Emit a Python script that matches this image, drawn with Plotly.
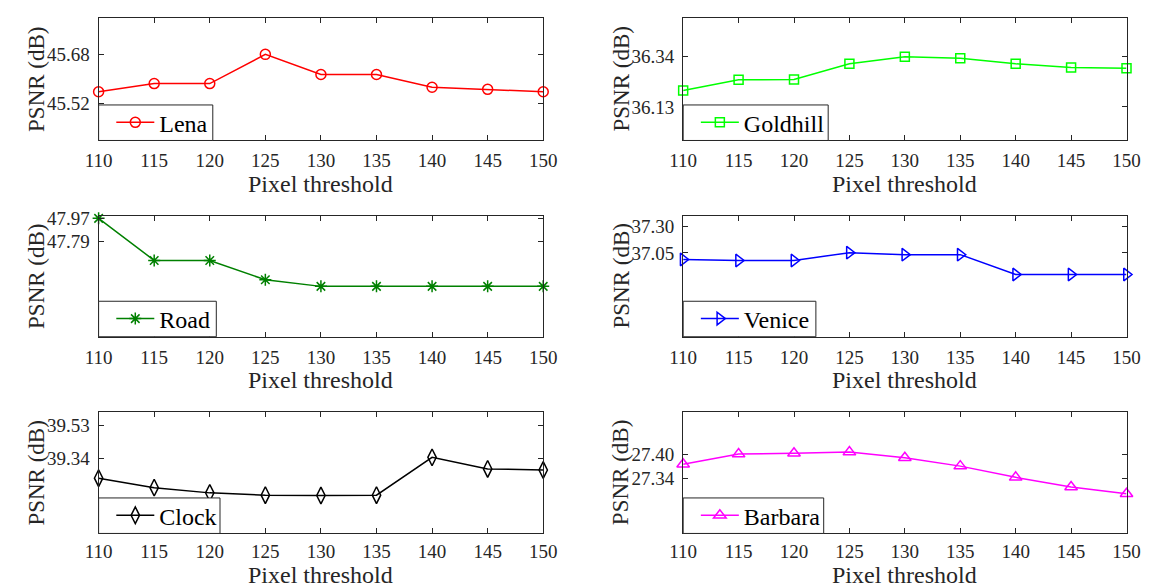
import plotly.graph_objects as go

# ---------------- data ----------------
thresholds = [110, 115, 120, 125, 130, 135, 140, 145, 150]

lena = [45.558, 45.585, 45.585, 45.681, 45.615, 45.615, 45.573, 45.566, 45.558]
goldhill = [36.198, 36.243, 36.244, 36.310, 36.339, 36.333, 36.310, 36.294, 36.291]
road = [47.970, 47.636, 47.636, 47.482, 47.430, 47.430, 47.430, 47.430, 47.430]
venice = [36.988, 36.978, 36.978, 37.053, 37.034, 37.034, 36.845, 36.845, 36.845]
clock = [39.227, 39.173, 39.143, 39.130, 39.128, 39.130, 39.346, 39.280, 39.274]
barbara = [27.3745, 27.400, 27.402, 27.405, 27.391, 27.370, 27.342, 27.318, 27.301]

names = ["Lena", "Goldhill", "Road", "Venice", "Clock", "Barbara"]
series = [lena, goldhill, road, venice, clock, barbara]

lena_ticks = [45.52, 45.68]
goldhill_ticks = [36.13, 36.34]
road_ticks = [47.79, 47.97]
venice_ticks = [37.05, 37.30]
clock_ticks = [39.34, 39.53]
barbara_ticks = [27.34, 27.40]
y_ticks = [lena_ticks, goldhill_ticks, road_ticks, venice_ticks, clock_ticks, barbara_ticks]

lena_range = [45.398, 45.80]
goldhill_range = [35.99, 36.50]
road_range = [47.03, 47.99]
venice_range = [36.253, 37.403]
clock_range = [38.911, 39.603]
barbara_range = [27.202, 27.504]
y_ranges = [lena_range, goldhill_range, road_range, venice_range, clock_range, barbara_range]

x_tick_labels = ["110", "115", "120", "125", "130", "135", "140", "145", "150"]
x_title = "Pixel threshold"
y_title = "PSNR (dB)"

# ---------------- styles ----------------
colors = ["#FF0000", "#00FF00", "#008000", "#0000FF", "#000000", "#FF00FF"]
symbols = ["circle-open", "square-open", "asterisk-open", "triangle-right-open",
           "diamond-tall-open", "triangle-up-open"]
msizes = [10, 9, 10, 11, 12, 11]
legend_box_w = [117, 148.6, 120.6, 136, 124.4, 144]   # px
legend_box_h = 36                                       # px

W, H = 1161, 588
col_px = [(86.7, 542.3), (685.7, 1140.0)]
row_px = [(10.3, 134.3), (210.7, 333.3), (410.0, 532.7)]
x_title_offset = [44.0, 44.0, 42.3]   # px below plot bottom (text centre), per row
x_label_standoff = [3, 3, 1]          # px, per row
y_title_offset = 63.5                 # px left of plot left (text centre)

FONT = "Liberation Serif, Times New Roman, serif"
AX = "#262626"

fig = go.Figure()
layout = dict(
    width=W, height=H,
    margin=dict(l=0, r=0, t=0, b=0),
    paper_bgcolor="white", plot_bgcolor="white",
    font=dict(family=FONT, size=19, color=AX),
    showlegend=True,
)
shapes = []
annotations = []

for i, (name, vals) in enumerate(zip(names, series)):
    r, c = divmod(i, 2)
    k = i + 1
    xa = "x" if k == 1 else f"x{k}"
    ya = "y" if k == 1 else f"y{k}"
    lg = "legend" if k == 1 else f"legend{k}"
    fig.add_trace(go.Scatter(
        x=thresholds, y=vals, name=name, mode="lines+markers",
        xaxis=xa, yaxis=ya, legend=lg, cliponaxis=False,
        line=dict(color=colors[i], width=1.5),
        marker=dict(symbol=symbols[i], size=msizes[i], color=colors[i],
                    line=dict(color=colors[i], width=1.5)),
    ))
    x0, x1 = col_px[c]
    top, bot = row_px[r]
    xd = [x0 / W, x1 / W]
    yd = [1 - bot / H, 1 - top / H]
    layout["xaxis" if k == 1 else f"xaxis{k}"] = dict(
        domain=xd, anchor=ya, range=[110, 150],
        tickmode="array", tickvals=thresholds, ticktext=x_tick_labels,
        ticks="inside", ticklen=5, tickwidth=1, tickcolor=AX,
        showline=True, linecolor=AX, linewidth=1, mirror="ticks",
        showgrid=False, zeroline=False,
        tickfont=dict(size=19, color=AX, family=FONT),
        ticklabelstandoff=x_label_standoff[r],
    )
    layout["yaxis" if k == 1 else f"yaxis{k}"] = dict(
        domain=yd, anchor=xa, range=y_ranges[i],
        tickmode="array", tickvals=y_ticks[i], tickformat=".2f",
        ticks="inside", ticklen=5, tickwidth=1, tickcolor=AX,
        showline=True, linecolor=AX, linewidth=1, mirror="ticks",
        showgrid=False, zeroline=False,
        tickfont=dict(size=19, color=AX, family=FONT),
        ticklabelstandoff=4,
    )
    # axis titles
    annotations.append(dict(
        text=x_title, xref="paper", yref="paper", showarrow=False,
        x=(x0 + x1) / 2 / W, y=1 - (bot + x_title_offset[r]) / H,
        xanchor="center", yanchor="middle",
        font=dict(size=24, color=AX, family=FONT),
    ))
    annotations.append(dict(
        text=y_title, xref="paper", yref="paper", showarrow=False,
        x=(x0 - y_title_offset) / W, y=(yd[0] + yd[1]) / 2,
        xanchor="center", yanchor="middle", textangle=-90,
        font=dict(size=23, color=AX, family=FONT),
    ))
    # legend frame
    shapes.append(dict(
        type="rect", xref="paper", yref="paper", layer="above",
        x0=x0 / W, x1=(x0 + legend_box_w[i]) / W,
        y0=1 - bot / H, y1=1 - (bot - legend_box_h) / H,
        fillcolor="white", line=dict(color=AX, width=1),
    ))
    layout[lg] = dict(
        x=(x0 + 13) / W, y=1 - (bot - legend_box_h / 2) / H,
        xanchor="left", yanchor="middle",
        xref="paper", yref="paper",
        bgcolor="rgba(0,0,0,0)", borderwidth=0,
        font=dict(size=24, color="#000000", family=FONT),
        itemwidth=38, tracegroupgap=0,
    )

layout["shapes"] = shapes
layout["annotations"] = annotations
fig.update_layout(**layout)
fig.write_html(
    "out.html",
    config={"displayModeBar": False},
    post_script="document.body.style.margin='0px';document.body.style.overflow='hidden';",
)
